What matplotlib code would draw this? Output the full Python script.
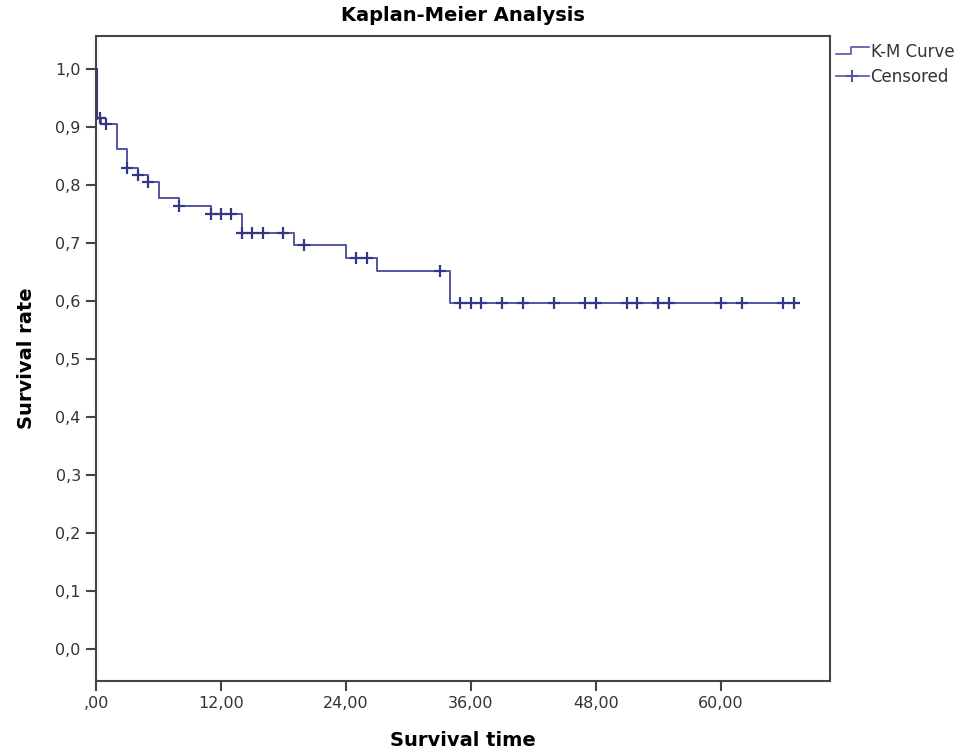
import matplotlib
matplotlib.use("Agg")
from matplotlib import pyplot as plt
from matplotlib.lines import Line2D
from matplotlib.legend_handler import HandlerBase
import numpy as np

# step points of the K-M curve (time, survival after step)
step_t = [0, 0.0, 0.5, 2.0, 3.0, 4.0, 5.0, 6.0, 8.0, 11.0, 14.0, 19.0, 24.0, 27.0, 34.0]
step_s = [1.0, 0.915, 0.905, 0.863, 0.829, 0.817, 0.805, 0.778, 0.764, 0.750, 0.717, 0.697, 0.675, 0.651, 0.596]
end_t = 67.0

censor_t = [0.4, 1.0, 3.0, 4.0, 5.0, 8.0, 11.0, 12.0, 13.0, 14.0, 15.0, 16.0, 18.0,
            20.0, 25.0, 26.0, 33.0, 35.0, 36.0, 37.0, 39.0, 41.0, 44.0, 47.0, 48.0,
            51.0, 52.0, 54.0, 55.0, 60.0, 62.0, 66.0, 67.0]

xticks = [0, 12, 24, 36, 48, 60]
xlabels = [",00", "12,00", "24,00", "36,00", "48,00", "60,00"]
yticks = [0.0, 0.1, 0.2, 0.3, 0.4, 0.5, 0.6, 0.7, 0.8, 0.9, 1.0]
ylabels = ["0,0", "0,1", "0,2", "0,3", "0,4", "0,5", "0,6", "0,7", "0,8", "0,9", "1,0"]

line_col = '#5256a3'
mark_col = '#343884'
spine_col = '#444444'

t = np.array(step_t + [end_t])
s = np.array(step_s + [step_s[-1]])


def surv_at(x):
    i = np.searchsorted(t[:-1], x, side='right') - 1
    return s[i]


censor_s = [surv_at(c) for c in censor_t]


class StepHandler(HandlerBase):
    def create_artists(self, legend, orig, xd, yd, w, h, fs, trans):
        xs = [0, 0.45 * w, 0.45 * w, w]
        ys = [0.2 * h, 0.2 * h, 0.8 * h, 0.8 * h]
        ln = Line2D(xs, ys, color=line_col, lw=1.2, transform=trans)
        return [ln]


fig = plt.figure(figsize=(9.74, 7.53), dpi=100)
ax = fig.add_axes([0.0986, 0.0956, 0.7536, 0.8566])

km, = ax.step(t, s, where='post', color=line_col, lw=1.4)
ax.plot([0, 0], [1.0, 0.915], color=mark_col, lw=2.2)
cens, = ax.plot(censor_t, censor_s, ls='none', marker='+', ms=8, mew=1.6, color=mark_col)

ax.set_xlim(0, 70.5)
ax.set_ylim(-0.055, 1.057)
ax.set_xticks(xticks)
ax.set_xticklabels(xlabels)
ax.set_yticks(yticks)
ax.set_yticklabels(ylabels)
ax.tick_params(direction='out', length=7, width=1.5, color=spine_col,
               labelsize=11.5, labelcolor='#333333', pad=4)
for sp in ax.spines.values():
    sp.set_color(spine_col)
    sp.set_linewidth(1.5)

ax.set_title("Kaplan-Meier Analysis", fontsize=14, fontweight='bold', pad=11)
ax.set_xlabel("Survival time", fontsize=14, fontweight='bold', labelpad=14)
ax.set_ylabel("Survival rate", fontsize=14, fontweight='bold', labelpad=14)

cens_handle = Line2D([], [], color=line_col, lw=1.2, marker='+', ms=9, mew=1.5,
                     markeredgecolor=line_col)
leg = ax.legend([km, cens_handle], ["K-M Curve", "Censored"],
                handler_map={km: StepHandler()},
                loc='upper left', bbox_to_anchor=(1.003, 0.995), frameon=False,
                fontsize=12, handlelength=2.0, handletextpad=0.1,
                labelspacing=0.45, borderaxespad=0, borderpad=0.2)
for txt in leg.get_texts():
    txt.set_color('#333333')

fig.savefig("out.png", dpi=100)
